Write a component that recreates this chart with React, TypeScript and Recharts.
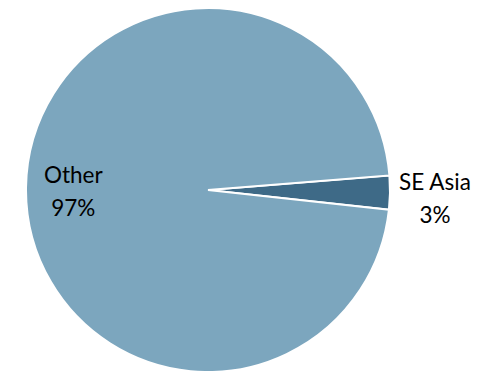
import { PieChart, Pie, Cell } from 'recharts'

const regions = ['SE Asia', 'Other']
const shares = [3, 97]
const colors = ['#3e6a87', '#7ca6be']

const data = regions.map((name, i) => ({ name, value: shares[i] }))

const RADIAN = Math.PI / 180

function renderLabel(props: any) {
  const { cx, cy, midAngle, outerRadius, percent, name, value } = props
  const cos = Math.cos(-midAngle * RADIAN)
  const sin = Math.sin(-midAngle * RADIAN)
  const inside = percent > 0.5
  const r = inside ? outerRadius * 0.74 : outerRadius + 8
  // outside labels start just past the rim, so centre the lines a bit to the right
  const x = cx + r * cos + (inside ? 0 : 37)
  const y = cy + r * sin + (inside ? 1 : 3)
  return (
    <text
      x={x}
      y={y}
      textAnchor="middle"
      fill="#000"
      fontFamily="Lato, 'Open Sans', sans-serif"
      fontSize={22.5}
    >
      <tspan x={x} dy={-6}>{name}</tspan>
      <tspan x={x} dy={33}>{`${value}%`}</tspan>
    </text>
  )
}

export default function App() {
  return (
    <div style={{ position: 'absolute', left: 0, top: 0, background: '#fff' }}>
      <PieChart width={486} height={371} margin={{ top: 0, right: 0, bottom: 0, left: 0 }}>
        <Pie
          data={data}
          dataKey="value"
          nameKey="name"
          cx={208}
          cy={190}
          outerRadius={182}
          startAngle={-6.2}
          endAngle={353.8}
          stroke="#fff"
          strokeWidth={2}
          label={renderLabel}
          labelLine={false}
          isAnimationActive={false}
        >
          {data.map((d, i) => (
            <Cell key={d.name} fill={colors[i]} />
          ))}
        </Pie>
      </PieChart>
    </div>
  )
}
